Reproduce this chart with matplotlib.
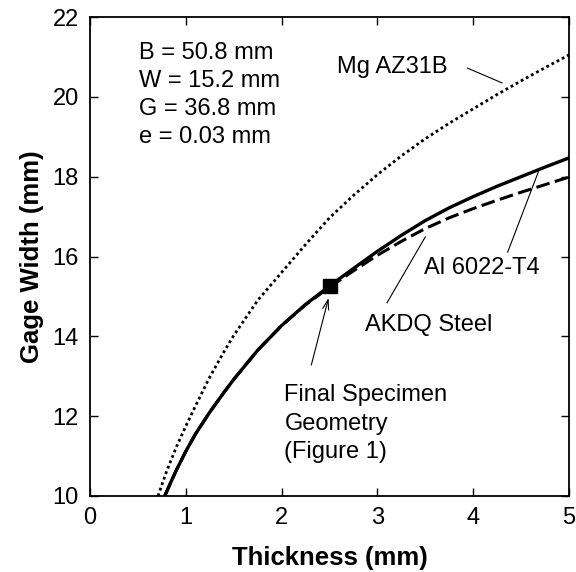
import matplotlib
matplotlib.use("Agg")
import matplotlib.pyplot as plt

plt.rcParams['font.family'] = ['Liberation Sans', 'DejaVu Sans']

# Data
x_al = [0.78, 0.85, 0.9, 1.0, 1.1, 1.25, 1.4, 1.5, 1.75, 2.0, 2.25, 2.5,
        2.75, 3.0, 3.25, 3.5, 3.75, 4.0, 4.25, 4.5, 4.75, 5.0]
y_al = [10.0, 10.38, 10.64, 11.12, 11.55, 12.1, 12.6, 12.92, 13.65, 14.27, 14.8, 15.26,
        15.7, 16.13, 16.53, 16.9, 17.22, 17.5, 17.76, 18.0, 18.24, 18.47]

x_steel = [0.78, 0.85, 0.9, 1.0, 1.1, 1.25, 1.4, 1.5, 1.75, 2.0, 2.25, 2.5,
           2.75, 3.0, 3.25, 3.5, 3.75, 4.0, 4.25, 4.5, 4.75, 5.0]
y_steel = [10.0, 10.38, 10.64, 11.12, 11.55, 12.1, 12.6, 12.92, 13.65, 14.27, 14.79, 15.23,
           15.64, 16.03, 16.38, 16.7, 16.97, 17.2, 17.41, 17.61, 17.8, 17.99]

x_mg = [0.71, 0.8, 0.9, 1.0, 1.1, 1.25, 1.4, 1.5, 1.75, 2.0, 2.25, 2.5,
        2.75, 3.0, 3.25, 3.5, 3.75, 4.0, 4.25, 4.5, 4.75, 5.0]
y_mg = [10.0, 10.62, 11.22, 11.75, 12.25, 12.98, 13.62, 14.02, 14.9, 15.6, 16.3, 16.97,
        17.53, 18.05, 18.52, 18.95, 19.34, 19.7, 20.06, 20.4, 20.73, 21.05]

final_x = [2.5]
final_y = [15.25]

params = ["B = 50.8 mm", "W = 15.2 mm", "G = 36.8 mm", "e = 0.03 mm"]
x_ticks = [0, 1, 2, 3, 4, 5]
y_ticks = [10, 12, 14, 16, 18, 20, 22]

fig = plt.figure(figsize=(5.76, 5.72), dpi=100)
ax = fig.add_axes([90/576, 1-496/572, (569-90)/576, (496-17)/572])

ax.plot(x_mg, y_mg, color='black', lw=2.0, linestyle=(0, (1, 1.1)))
ax.plot(x_steel, y_steel, color='black', lw=2.2, linestyle=(0, (4.5, 1.8)))
ax.plot(x_al, y_al, color='black', lw=2.4, solid_capstyle='butt')
ax.plot(final_x, final_y, marker='s', color='black', markersize=9.5, linestyle='none')

ax.set_xlim(0, 5)
ax.set_ylim(10, 22)
ax.set_xticks(x_ticks)
ax.set_yticks(y_ticks)
ax.tick_params(direction='in', length=6, width=1.0, top=True, right=True,
               labelsize=17, pad=8)
for s in ax.spines.values():
    s.set_linewidth(1.3)

ax.set_xlabel("Thickness (mm)", fontsize=18.5, fontweight='bold', labelpad=12)
ax.set_ylabel("Gage Width (mm)", fontsize=18.5, fontweight='bold', labelpad=6)

fs = 17
for i, t in enumerate(params):
    ax.text(0.51, 21.10 - 0.70 * i, t, fontsize=fs, ha='left', va='center')

ax.text(2.58, 20.75, "Mg AZ31B", fontsize=fs, ha='left', va='center')
ax.plot([3.94, 4.30], [20.72, 20.35], color='black', lw=0.8)

ax.text(3.49, 15.71, "Al 6022-T4", fontsize=fs, ha='left', va='center')
ax.plot([4.36, 4.68], [16.11, 18.12], color='black', lw=0.8)

ax.text(2.87, 14.28, "AKDQ Steel", fontsize=fs, ha='left', va='center')
ax.plot([3.10, 3.50], [14.84, 16.49], color='black', lw=0.8)

for i, t in enumerate(["Final Specimen", "Geometry", "(Figure 1)"]):
    ax.text(2.03, 12.53 - 0.72 * i, t, fontsize=fs, ha='left', va='center')
ax.annotate("", xy=(2.49, 14.96), xytext=(2.31, 13.28),
            arrowprops=dict(arrowstyle='->,head_length=0.7,head_width=0.22',
                            color='black', lw=0.8, shrinkA=0, shrinkB=0))

fig.savefig("out.png", dpi=100)
